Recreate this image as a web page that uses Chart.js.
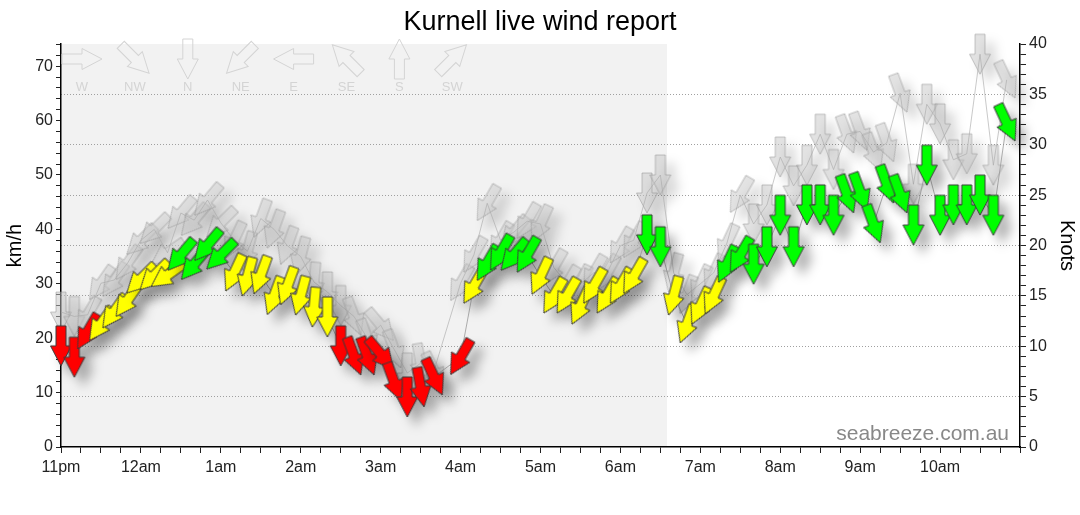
<!DOCTYPE html>
<html lang="en">
<head>
<meta charset="UTF-8">
<title>Kurnell live wind report</title>
<style>
  html, body { margin: 0; padding: 0; background: #fff; }
</style>
</head>
<body>
<canvas id="windChart" width="1080" height="515"></canvas>

<script src="https://cdn.jsdelivr.net/npm/chart.js"></script>
<script>
  // observation times (10 min, 03:50 missing)
  const obsTimes = [
    '23:00','23:10','23:20','23:30','23:40','23:50',
    '00:00','00:10','00:20','00:30','00:40','00:50',
    '01:00','01:10','01:20','01:30','01:40','01:50',
    '02:00','02:10','02:20','02:30','02:40','02:50',
    '03:00','03:10','03:20','03:30','03:40',
    '04:00','04:10','04:20','04:30','04:40','04:50',
    '05:00','05:10','05:20','05:30','05:40','05:50',
    '06:00','06:10','06:20','06:30','06:40','06:50',
    '07:00','07:10','07:20','07:30','07:40','07:50',
    '08:00','08:10','08:20','08:30','08:40','08:50',
    '09:00','09:10','09:20','09:30','09:40','09:50',
    '10:00','10:10','10:20','10:30','10:40','10:50'
  ];

  // average wind, km/h
  const windAvg = [
    18.6, 16.5, 21.2, 22.6, 24.9, 27.0,
    30.9, 31.5, 31.6, 35.3, 33.6, 37.1,
    35.3, 32.0, 31.3, 31.6, 27.8, 29.6,
    27.8, 25.7, 23.9, 18.6, 16.7, 16.7,
    17.1, 12.0, 9.2, 11.0, 12.9,
    16.5, 29.6, 33.8, 35.7, 35.3, 35.3,
    31.4, 27.8, 27.8, 25.9, 29.6, 27.8,
    29.6, 31.4, 39.0, 36.8, 27.8, 22.6,
    25.9, 27.8, 33.6, 35.3, 33.6, 36.8,
    42.6, 36.8, 44.5, 44.5, 42.6, 46.5,
    46.9, 41.0, 48.3, 46.5, 40.8, 51.8,
    42.6, 44.5, 44.5, 46.3, 42.6, 59.6
  ];

  // gusts, km/h
  const windGust = [
    24.8, 24.0, 24.3, 30.1, 30.7, 33.8,
    38.0, 40.0, 35.7, 43.0, 41.7, 45.4,
    41.2, 38.0, 36.0, 42.0, 40.0, 37.0,
    35.0, 30.3, 28.5, 26.0, 24.0, 20.0,
    22.4, 18.0, 13.6, 15.4, 14.0,
    30.1, 35.3, 44.8, 38.0, 39.5, 41.5,
    41.0, 33.0, 30.0, 30.0, 32.0, 32.0,
    37.0, 38.0, 46.7, 50.0, 32.0, 28.0,
    30.0, 32.0, 37.5, 46.3, 41.0, 44.5,
    53.3, 48.0, 51.8, 57.5, 51.0, 57.5,
    58.0, 54.2, 55.9, 65.0, 48.3, 63.0,
    59.4, 52.8, 53.9, 72.2, 51.8, 67.5
  ];

  // direction the wind comes from, degrees
  const windDir = [
    0, 0, 30, 35, 35, 35,
    45, 45, 55, 40, 40, 40,
    45, 25, 15, 20, 20, 20,
    15, 5, 0, 0, 340, 340,
    320, 340, 0, 350, 335,
    30, 30, 30, 30, 40, 30,
    25, 30, 30, 25, 30, 30,
    30, 30, 0, 0, 15, 20,
    25, 25, 25, 30, 0, 0,
    0, 0, 0, 0, 0, 340,
    340, 340, 340, 340, 0, 0,
    0, 0, 0, 0, 0, 335
  ];

  const hourLabels = ['11pm','12am','1am','2am','3am','4am','5am','6am','7am','8am','9am','10am'];
  const compassLabels = ['W','NW','N','NE','E','SE','S','SW'];
  const compassDirs = [270, 315, 0, 45, 90, 135, 180, 225];
  const nightEnd = '06:35';
  const knotsMax = 40;
  const KMH_PER_KNOT = 1.852;

  const FONT = "'Liberation Sans', Arial, Helvetica, sans-serif";
  Chart.defaults.font.family = FONT;

  function hoursSince11pm(t) {
    const [h, m] = t.split(':').map(Number);
    return ((h - 23 + 24) % 24) + m / 60;
  }

  // arrow pointing down, centred on (cx, cy)
  function arrowPath(ctx, cx, cy) {
    ctx.beginPath();
    ctx.moveTo(cx - 5, cy - 20);
    ctx.lineTo(cx + 5, cy - 20);
    ctx.lineTo(cx + 5, cy);
    ctx.lineTo(cx + 10.5, cy);
    ctx.lineTo(cx, cy + 20);
    ctx.lineTo(cx - 10.5, cy);
    ctx.lineTo(cx - 5, cy);
    ctx.closePath();
  }

  function makeArrow(fill, stroke) {
    const c = document.createElement('canvas');
    c.width = 26;
    c.height = 46;
    const g = c.getContext('2d');
    arrowPath(g, 13, 23);
    g.fillStyle = fill;
    g.fill();
    g.lineWidth = 1;
    g.strokeStyle = stroke;
    g.stroke();
    return c;
  }

  const arrowRed = makeArrow('#ff0000', '#3a3a3a');
  const arrowYellow = makeArrow('#ffff00', '#3a3a3a');
  const arrowGreen = makeArrow('#00ff00', '#3a3a3a');
  const arrowGust = makeArrow('rgba(200,200,200,0.5)', 'rgba(140,140,140,0.5)');

  function ratingArrow(kmh) {
    const kn = kmh / KMH_PER_KNOT;
    if (kn < 12) return arrowRed;
    if (kn < 18) return arrowYellow;
    return arrowGreen;
  }

  const avgPoints = obsTimes.map((t, i) => ({ x: hoursSince11pm(t), y: windAvg[i] }));
  const gustPoints = obsTimes.map((t, i) => ({ x: hoursSince11pm(t), y: windGust[i] }));

  const nightShade = {
    id: 'nightShade',
    beforeDraw(chart) {
      const { ctx, chartArea: a, scales: { x } } = chart;
      const x1 = x.getPixelForValue(0);
      const x2 = x.getPixelForValue(hoursSince11pm(nightEnd));
      ctx.save();
      ctx.fillStyle = '#f2f2f2';
      ctx.fillRect(x1, a.top, x2 - x1, a.bottom - a.top);
      ctx.restore();
    }
  };

  const compassKey = {
    id: 'compassKey',
    beforeDatasetsDraw(chart) {
      const { ctx, chartArea: a } = chart;
      compassLabels.forEach((lab, i) => {
        const cx = a.left + 21 + i * 52.9;
        const cy = a.top + 15;
        ctx.save();
        ctx.translate(cx, cy);
        ctx.rotate(compassDirs[i] * Math.PI / 180);
        arrowPath(ctx, 0, 0);
        ctx.strokeStyle = '#d4d4d4';
        ctx.lineWidth = 1;
        ctx.stroke();
        ctx.restore();
        ctx.save();
        ctx.fillStyle = '#d4d4d4';
        ctx.font = '13px ' + FONT;
        ctx.textAlign = 'center';
        ctx.textBaseline = 'middle';
        ctx.fillText(lab, cx, a.top + 43);
        ctx.restore();
      });
    }
  };

  const arrowShadow = {
    id: 'arrowShadow',
    beforeDatasetDraw(chart, args) {
      if (!chart.data.datasets[args.index].arrows) return;
      const ctx = chart.ctx;
      ctx.save();
      ctx.shadowColor = 'rgba(0,0,0,0.3)';
      ctx.shadowBlur = 11;
      ctx.shadowOffsetX = 9;
      ctx.shadowOffsetY = 9;
    },
    afterDatasetDraw(chart, args) {
      if (!chart.data.datasets[args.index].arrows) return;
      chart.ctx.restore();
    }
  };

  const watermark = {
    id: 'watermark',
    afterDraw(chart) {
      const { ctx, chartArea: a } = chart;
      ctx.save();
      ctx.fillStyle = '#888';
      ctx.font = '21px ' + FONT;
      ctx.textAlign = 'right';
      ctx.textBaseline = 'alphabetic';
      ctx.fillText('seabreeze.com.au', a.right - 11, a.bottom - 7);
      ctx.restore();
    }
  };

  new Chart(document.getElementById('windChart'), {
    type: 'line',
    data: {
      datasets: [
        {
          label: 'Average',
          data: avgPoints,
          arrows: true,
          showLine: false,
          order: 1,
          clip: false,
          pointRadius: 4,
          pointStyle: c => (c.type === 'data' ? ratingArrow(c.raw.y) : 'circle'),
          pointRotation: c => (c.type === 'data' ? windDir[c.dataIndex] : 0)
        },
        {
          label: 'Average line',
          data: avgPoints,
          order: 2,
          borderColor: '#999',
          borderWidth: 0.8,
          pointRadius: 0
        },
        {
          label: 'Gust line',
          data: gustPoints,
          order: 3,
          borderColor: 'rgba(170,170,170,0.8)',
          borderWidth: 0.8,
          pointRadius: 0
        },
        {
          label: 'Gust',
          data: gustPoints,
          arrows: true,
          showLine: false,
          order: 4,
          clip: false,
          pointRadius: 4,
          pointStyle: arrowGust,
          pointRotation: c => (c.type === 'data' ? windDir[c.dataIndex] : 0)
        }
      ]
    },
    options: {
      responsive: false,
      animation: false,
      events: [],
      layout: { padding: 0 },
      scales: {
        x: {
          type: 'linear',
          min: 0,
          max: 12,
          ticks: {
            stepSize: 0.25,
            autoSkip: false,
            maxRotation: 0,
            color: '#222',
            padding: 5,
            font: { size: 16 },
            callback: v => (Number.isInteger(v) && hourLabels[v] ? hourLabels[v] : '')
          },
          grid: { drawOnChartArea: false, tickLength: 6, tickColor: '#222' },
          border: { color: '#000', width: 1.5 },
          afterFit: s => { s.height = 68; }
        },
        y: {
          position: 'left',
          min: 0,
          max: knotsMax * KMH_PER_KNOT,
          ticks: {
            stepSize: 2,
            autoSkip: false,
            color: '#222',
            padding: 3,
            font: { size: 16 },
            callback: v => (v % 10 === 0 ? v : '')
          },
          grid: { drawOnChartArea: false, tickLength: 5, tickColor: '#222' },
          border: { color: '#000', width: 1.5 },
          title: { display: true, text: 'km/h', color: '#000', font: { size: 20 }, padding: { top: 3 } },
          afterFit: s => { s.width = 61; }
        },
        y2: {
          position: 'right',
          min: 0,
          max: knotsMax,
          ticks: {
            stepSize: 1,
            autoSkip: false,
            color: '#222',
            padding: 3,
            font: { size: 16 },
            callback: v => (v % 5 === 0 ? v : '')
          },
          grid: {
            color: c => (c.tick && c.tick.value % 5 === 0 && c.tick.value > 0 && c.tick.value < knotsMax ? '#a0a0a0' : 'rgba(0,0,0,0)'),
            tickLength: 6,
            tickColor: '#222'
          },
          border: { color: '#000', width: 1.5, dash: [1, 2] },
          title: { display: true, text: 'Knots', color: '#000', font: { size: 20 }, padding: { top: 1 } },
          afterFit: s => { s.width = 60; }
        }
      },
      plugins: {
        legend: { display: false },
        tooltip: { enabled: false },
        title: {
          display: true,
          text: 'Kurnell live wind report',
          color: '#000',
          font: { size: 27, weight: 'normal' },
          padding: { top: 6, bottom: 5.6 }
        }
      }
    },
    plugins: [nightShade, compassKey, arrowShadow, watermark]
  });
</script>
</body>
</html>
